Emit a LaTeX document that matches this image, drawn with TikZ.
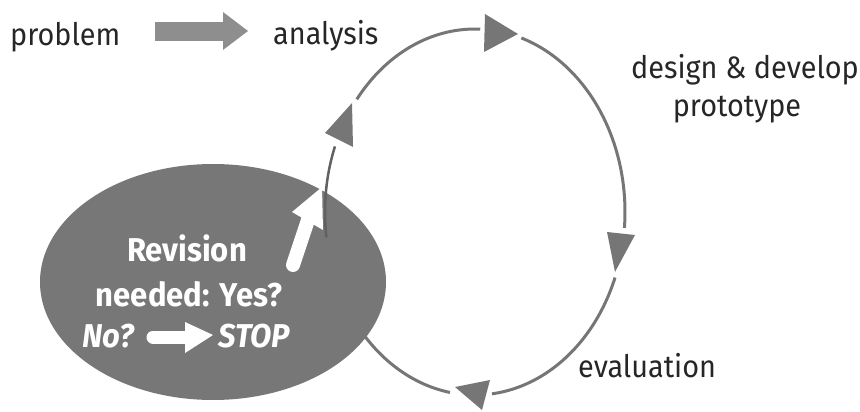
\documentclass[tikz,border=0pt]{standalone}
\usepackage{fontspec}
\setmainfont{Fira Sans}
\definecolor{arcgray}{HTML}{767676}
\definecolor{ovalgray}{HTML}{777777}
\definecolor{arrgray}{HTML}{8E8E8E}
\definecolor{ink}{HTML}{262626}
\newcommand{\sqz}[1]{\scalebox{0.93}[1]{#1}}
\newcommand{\sqw}[1]{\scalebox{0.94}[1]{#1}}
\begin{document}
\begin{tikzpicture}[x=1pt,y=-1pt,
  arcline/.style={draw=arcgray,line width=3pt},
  tri/.style={fill=arcgray},
  lbl/.style={font=\fontsize{31}{34}\selectfont, text=ink, inner sep=0pt},
  wlbl/.style={font=\fontsize{33}{36}\selectfont\bfseries, text=white, inner sep=0pt},
  wital/.style={wlbl, font=\fontsize{33}{36}\selectfont\bfseries\itshape}]
\useasboundingbox (0,0) rectangle (860,412);
\coordinate (C) at (475,212);
% cycle arcs
\draw[arcline] plot[domain=218:272,samples=50,smooth] ({475+150*cos(\x)},{212+183*sin(\x)});
\draw[arcline] plot[domain=-72:5,samples=50,smooth] ({475+150*cos(\x)},{212+183*sin(\x)});
\draw[arcline] plot[domain=21:83.5,samples=50,smooth] ({475+150*cos(\x)},{212+183*sin(\x)});
\draw[arcline] plot[domain=99.6:140,samples=50,smooth] ({475+150*cos(\x)},{212+183*sin(\x)});
% arrowheads
\fill[tri] (485,14) coordinate (t1) -- (518,34) -- (484,52) -- cycle;
\fill[tri] (607,232) coordinate (t2) -- (635,235) -- (615,272) -- cycle;
\fill[tri] (455,387) coordinate (t3) -- (490,380) -- (482,410) -- cycle;
\fill[tri] (325,133) coordinate (t4) -- (352,103) -- (353,147) -- cycle;
% grey oval
\fill[ovalgray] (213,282) ellipse [x radius=173, y radius=118];
\node (oval) at (213,282) {};
\draw[arcline,draw=black!62,line width=2.5pt] plot[domain=172:201,samples=30,smooth] ({475+150*cos(\x)},{212+183*sin(\x)});
% white arrows in oval
\coordinate (ytail) at (293,265);
\coordinate (ybase) at (308,220);
\draw[white,line width=14pt,line cap=round] (ytail) -- (ybase);
\fill[white] (322,187) -- (323,230) -- (292,212) -- cycle;
\coordinate (ntail) at (153,337);
\coordinate (nbase) at (188,337);
\draw[white,line width=13pt,line cap=round] (ntail) -- (nbase);
\fill[white] (185,322) -- (213,335) -- (185,353) -- cycle;
% problem arrow
\fill[arrgray] (155,22) rectangle (225,41);
\fill[arrgray] (223,12) -- (248,31) -- (223,50) -- cycle;
% labels
\node[lbl,anchor=base west] (problem) at (10,46) {\sqz{problem}};
\node[lbl,anchor=base west] (analysis) at (273,45) {\sqz{analysis}};
\node[lbl,anchor=base] (design) at (745,79) {\sqz{design \& develop}};
\node[lbl,anchor=base] (proto) at (737,117) {\sqz{prototype}};
\node[lbl,anchor=base west] (eval) at (578,377) {\sqz{evaluation}};
\node[wlbl,anchor=base] (rev) at (187,261) {\sqw{Revision}};
\node[wlbl,anchor=base] (need) at (189,306) {\sqw{needed: Yes?}};
\node[wital,anchor=base west] (no) at (82,347) {\sqw{No?}};
\node[wital,anchor=base east] (stop) at (290,347) {\sqw{STOP}};
\end{tikzpicture}
\end{document}
